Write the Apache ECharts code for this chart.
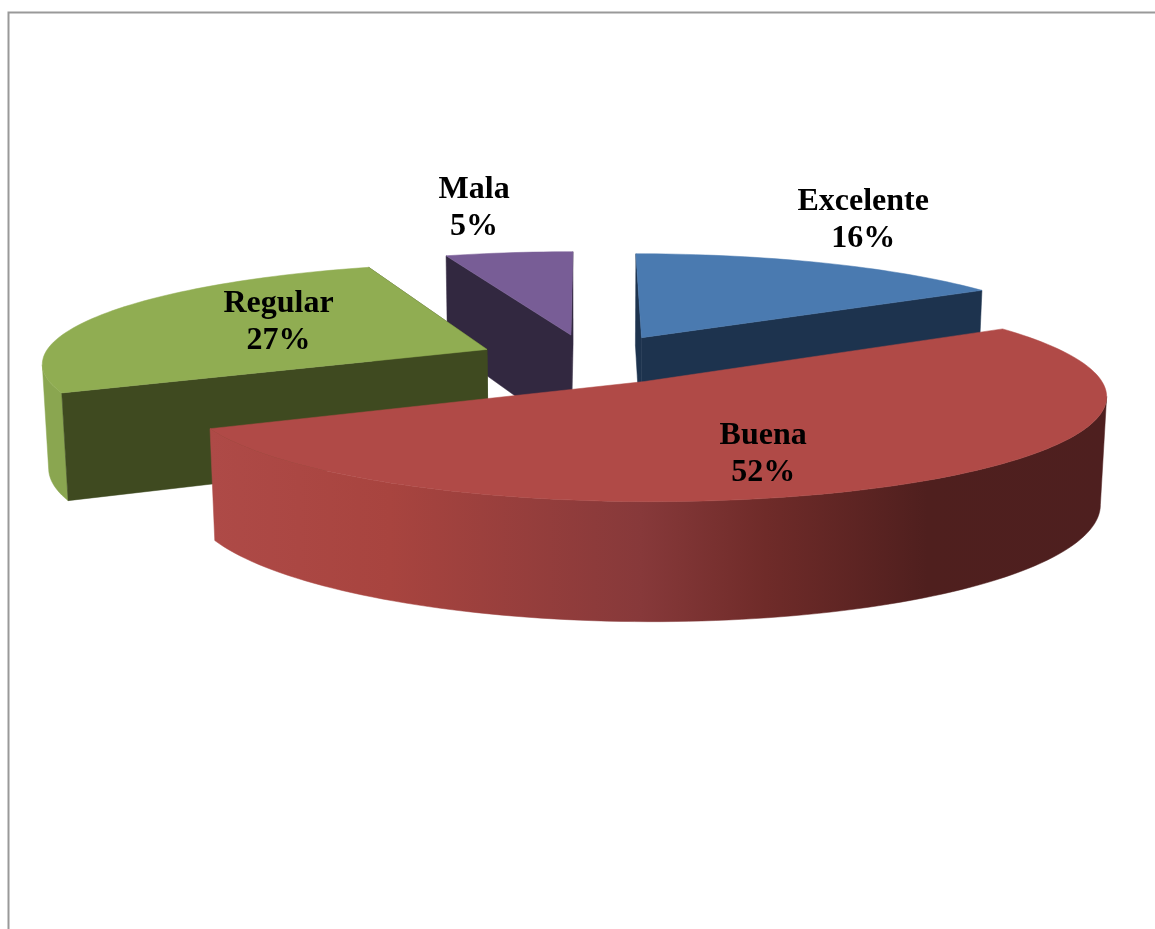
<!DOCTYPE html>
<html><head><meta charset="utf-8">
<style>html,body{margin:0;padding:0;background:#fff;overflow:hidden}#c{width:1155px;height:929px}</style>
<script src="https://cdn.jsdelivr.net/npm/echarts@6/dist/echarts.min.js"></script>
</head><body><div id="c"></div>
<script>
const categories = ['Excelente', 'Buena', 'Regular', 'Mala'];
const percents = [16, 52, 26.7, 5.3];
const drawOrder = ['Mala', 'Excelente', 'Regular', 'Buena'];

const topColors = {Excelente:'#4a7ab0', Buena:'#b04a47', Regular:'#90ad52', Mala:'#785d96'};
const faceColors = {Excelente:'#1d334e', Buena:'#4e1f1f', Regular:'#3f4a20', Mala:'#322840'};
const labelShift = {Excelente:[107,-71], Buena:[-27,14], Regular:[25,-5], Mala:[-58,-75]};

const view = {cx:589, cy:359, R:445, explode:112, tilt:0.223, dist:3600, zPersp:0.4, height:105};

function project(X, Y, Z) {
  const s = view.dist / (view.dist + Y + view.zPersp * Z);
  return [view.cx + X * s, view.cy - view.tilt * Y * s + Z * s];
}
const rad = d => d * Math.PI / 180;
function slicePoint(angle, r, mid, Z) {
  const X = r * Math.sin(rad(angle)) + view.explode * Math.sin(rad(mid));
  const Y = r * Math.cos(rad(angle)) + view.explode * Math.cos(rad(mid));
  return project(X, Y, Z);
}
function arc(a0, a1, mid, Z) {
  const n = Math.max(4, Math.ceil((a1 - a0) / 1.5)), pts = [];
  for (let i = 0; i <= n; i++) pts.push(slicePoint(a0 + (a1 - a0) * i / n, view.R, mid, Z));
  return pts;
}
// part of a rim arc that lies in front, between its silhouette points
function frontOf(pts, a0) {
  let iMax = 0, iMin = 0;
  pts.forEach((p, i) => {
    if (p[0] > pts[iMax][0]) iMax = i;
    if (p[0] < pts[iMin][0]) iMin = i;
  });
  if (a0 < 180) return pts.slice(iMax, iMin + 1);   // starts on the right side
  return pts.slice(0, iMin + 1);                    // starts on the left side
}

const total = percents.reduce((a, b) => a + b, 0);
let acc = 0;
const ranges = {};
categories.forEach((c, i) => {
  ranges[c] = [acc / total * 360, (acc + percents[i]) / total * 360];
  acc += percents[i];
});
const rows = drawOrder.map(name => [percents[categories.indexOf(name)], categories.indexOf(name)]);

function renderItem(params, api) {
  const name = categories[api.value(1)];
  const value = api.value(0);
  const [a0, a1] = ranges[name];
  const mid = (a0 + a1) / 2;
  const H = view.height;
  const poly = (points, fill) => ({type:'polygon', shape:{points}, style:{fill, stroke:fill, lineWidth:0.5}});
  const children = [];
  const topArc = arc(a0, a1, mid, 0);
  if (name === 'Buena' || name === 'Regular') {
    let wallFill = '#8aa650';
    if (name === 'Buena') wallFill = new echarts.graphic.LinearGradient(0, 0, 1, 0, [
      {offset:0, color:'#ae4a47'}, {offset:0.2, color:'#a8443f'}, {offset:0.48, color:'#87393a'},
      {offset:0.62, color:'#6f2b29'}, {offset:0.8, color:'#4f1f1e'}, {offset:1, color:'#4e1f1f'}]);
    children.push(poly(frontOf(topArc, a0).concat(frontOf(arc(a0, a1, mid, H), a0).reverse()), wallFill));
  }
  if (name !== 'Buena') {
    const apexT = slicePoint(0, 0, mid, 0), apexB = slicePoint(0, 0, mid, H);
    [a1, a0].forEach(a => {
      children.push(poly([apexT, slicePoint(a, view.R, mid, 0), slicePoint(a, view.R, mid, H), apexB], faceColors[name]));
    });
  }
  children.push(poly([slicePoint(0, 0, mid, 0)].concat(topArc), topColors[name]));
  const anchor = slicePoint(mid, view.R * 0.6, mid, 0);
  const shift = labelShift[name];
  children.push({type:'text', z2:100, style:{
    x: anchor[0] + shift[0], y: anchor[1] + shift[1],
    text: name + '\n' + Math.round(value) + '%',
    fill:'#000', font:'bold 32px "Liberation Serif"', lineHeight:37,
    align:'center', verticalAlign:'middle'
  }});
  return {type:'group', children};
}

const chart = echarts.init(document.getElementById('c'), null, {renderer:'canvas'});
chart.setOption({
  animation:false,
  backgroundColor:'#fff',
  graphic:[{type:'polyline', silent:true, shape:{points:[[8.5,929],[8.5,12.5],[1155,12.5]]},
    style:{stroke:'#999', lineWidth:2, fill:null}}],
  series:[{type:'custom', coordinateSystem:'none', silent:true, data:rows, renderItem}]
});
</script></body></html>
